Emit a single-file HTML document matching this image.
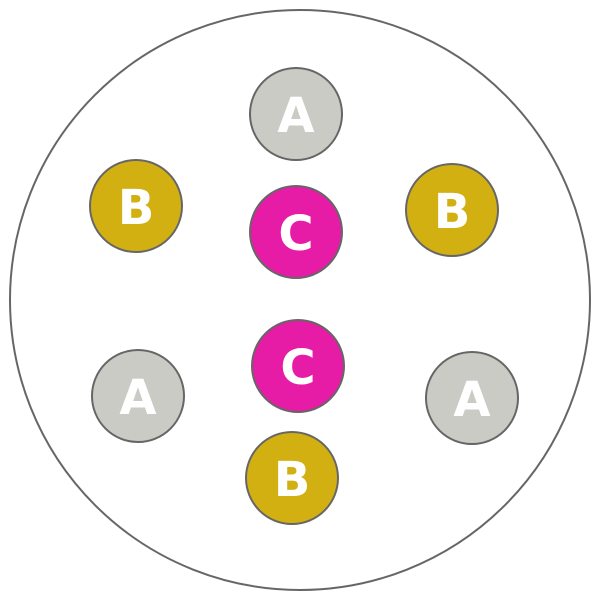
<!DOCTYPE html>
<html><head><style>html,body{margin:0;padding:0;background:#fff}</style></head><body>
<svg width="600" height="600" viewBox="0 0 600 600" xmlns="http://www.w3.org/2000/svg">
<circle cx="300" cy="300" r="290" fill="#fff" stroke="#666" stroke-width="2"/>
<g stroke="#666" stroke-width="2">
<circle cx="296" cy="114" r="46" fill="#cbcbc6"/>
<circle cx="136" cy="206" r="46" fill="#d3b012"/>
<circle cx="296" cy="232" r="46" fill="#e61ca7"/>
<circle cx="452" cy="210" r="46" fill="#d3b012"/>
<circle cx="138" cy="396" r="46" fill="#cbcbc6"/>
<circle cx="298" cy="366" r="46" fill="#e61ca7"/>
<circle cx="472" cy="398" r="46" fill="#cbcbc6"/>
<circle cx="292" cy="478" r="46" fill="#d3b012"/>
</g>
<g fill="#fff" font-family="'DejaVu Sans','Liberation Sans',sans-serif" font-weight="bold" font-size="48" text-anchor="middle" dominant-baseline="central">
<text x="296" y="116">A</text>
<text x="136" y="208">B</text>
<text x="296" y="234">C</text>
<text x="452" y="212">B</text>
<text x="138" y="398">A</text>
<text x="298" y="368">C</text>
<text x="472" y="400">A</text>
<text x="292" y="480">B</text>
</g>
</svg>
</body></html>
